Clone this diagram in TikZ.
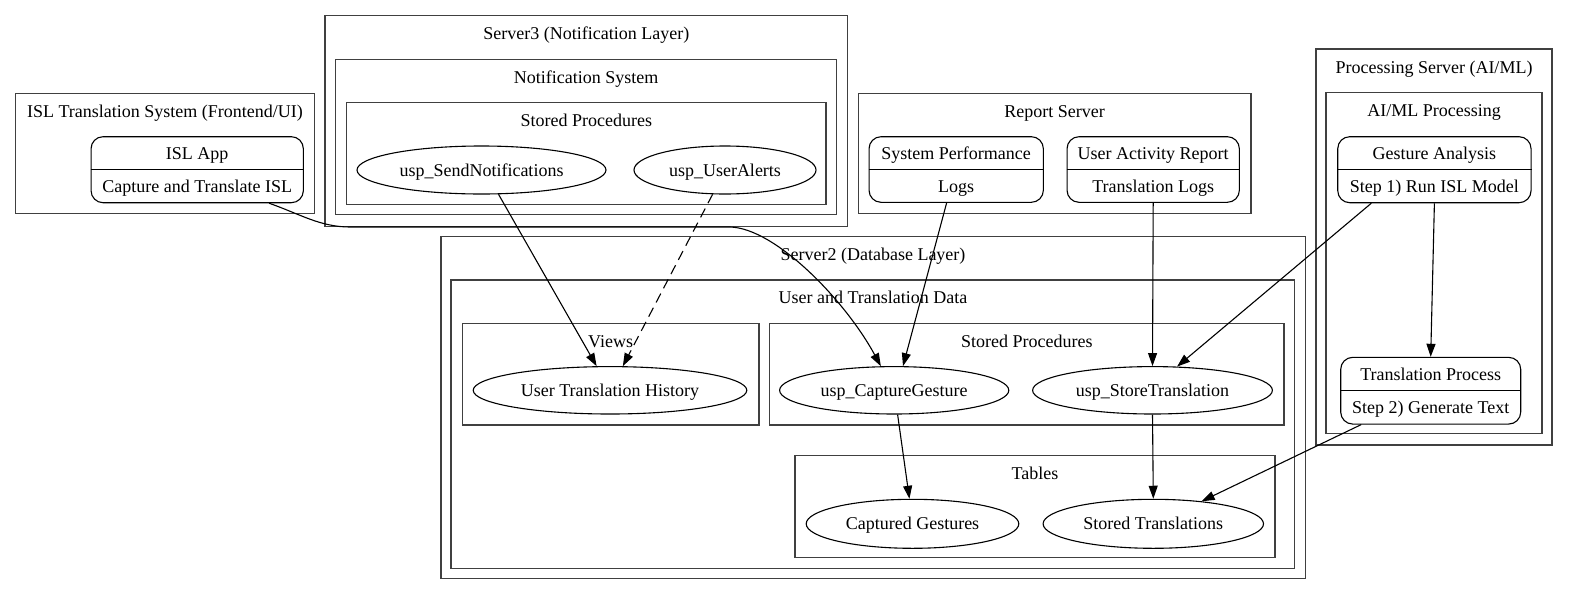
\documentclass[tikz,border=0pt]{standalone}
\usepackage{fontspec}
\setmainfont{Liberation Serif}
\usetikzlibrary{arrows.meta,shapes.geometric}
\tikzset{
  clusterbox/.style={draw=black!75, line width=1.1pt},
  ttl/.style={font=\fontsize{18}{20}\selectfont, anchor=base, inner sep=0pt},
  ell/.style={draw, ellipse, line width=1.1pt, inner sep=0pt, font=\fontsize{18}{20}\selectfont, text height=12pt, text depth=0pt},
  rec/.style={draw, rectangle, rounded corners=12pt, line width=1.1pt, inner sep=0pt},
  conn/.style={line width=1.1pt, -{Triangle[length=13pt,width=9pt]}},
}
\begin{document}
\begin{tikzpicture}[x=1pt,y=-1pt]
\fill[white] (0,0) rectangle (1569,595);
\useasboundingbox (0,0) rectangle (1569,595);

% ---------- clusters ----------
\draw[clusterbox] (15.7,93.3) rectangle (314.3,213.5);
\node[ttl] (t_isl) at (165,117) {ISL Translation System (Frontend/UI)};

\draw[clusterbox] (325,15.7) rectangle (847.7,226.5);
\node[ttl] (t_s3) at (586.3,39.4) {Server3 (Notification Layer)};
\draw[clusterbox] (335.7,59.3) rectangle (836.7,214.3);
\node[ttl] (t_ns) at (586.2,83) {Notification System};
\draw[clusterbox] (346.7,102.7) rectangle (826,204.3);
\node[ttl] (t_sp3) at (586.3,126.4) {Stored Procedures};

\draw[clusterbox] (858.3,93.3) rectangle (1251,213.3);
\node[ttl] (t_rs) at (1054.6,117) {Report Server};

\draw[clusterbox] (1316,49) rectangle (1552,445);
\node[ttl] (t_ps) at (1434,73) {Processing Server (AI/ML)};
\draw[clusterbox] (1326,92.7) rectangle (1542,433.3);
\node[ttl] (t_ai) at (1434,116.4) {AI/ML Processing};

\draw[clusterbox] (441,236.7) rectangle (1305.5,578.3);
\node[ttl] (t_s2) at (873,260.4) {Server2 (Database Layer)};
\draw[clusterbox] (451,280) rectangle (1294.5,568.3);
\node[ttl] (t_utd) at (873,303.7) {User and Translation Data};
\draw[clusterbox] (462.2,323.3) rectangle (759,425);
\node[ttl] (t_views) at (610.6,347) {Views};
\draw[clusterbox] (769.6,323.3) rectangle (1284,425);
\node[ttl] (t_sp2) at (1026.8,347) {Stored Procedures};
\draw[clusterbox] (795,455.7) rectangle (1275,557.7);
\node[ttl] (t_tab) at (1035,479.4) {Tables};

% ---------- record nodes ----------
\node[rec, minimum width=212.3, minimum height=66] (isl) at (197.2,169.7) {};
\draw[line width=1.1pt] (isl.west) -- (isl.east);
\node[ttl] (isl_a) at (197.2,159) {ISL App};
\node[ttl] (isl_b) at (197.2,192) {Capture and Translate ISL};

\node[rec, minimum width=174.3, minimum height=65.6] (sysperf) at (956.2,169.5) {};
\draw[line width=1.1pt] (sysperf.west) -- (sysperf.east);
\node[ttl] (sp_a) at (956.2,159) {System Performance};
\node[ttl] (sp_b) at (956.2,192) {Logs};

\node[rec, minimum width=172.3, minimum height=65.6] (useract) at (1153.2,169.5) {};
\draw[line width=1.1pt] (useract.west) -- (useract.east);
\node[ttl] (ua_a) at (1153.2,159) {User Activity Report};
\node[ttl] (ua_b) at (1153.2,192) {Translation Logs};

\node[rec, minimum width=193.3, minimum height=66] (gesture) at (1434.4,169.7) {};
\draw[line width=1.1pt] (gesture.west) -- (gesture.east);
\node[ttl] (ga_a) at (1434.4,159) {Gesture Analysis};
\node[ttl] (ga_b) at (1434.4,192) {Step 1) Run ISL Model};

\node[rec, minimum width=180, minimum height=66.7] (transp) at (1430.7,390.7) {};
\draw[line width=1.1pt] (transp.west) -- (transp.east);
\node[ttl] (tp_a) at (1430.7,380) {Translation Process};
\node[ttl] (tp_b) at (1430.7,413) {Step 2) Generate Text};

% ---------- ellipse nodes ----------
\node[ell, minimum width=249, minimum height=48] (sendn) at (481.5,170) {usp\_SendNotifications};
\node[ell, minimum width=182, minimum height=48] (alerts) at (725,170) {usp\_UserAlerts};
\node[ell, minimum width=273.6, minimum height=47.4] (uth) at (610,390.3) {User Translation History};
\node[ell, minimum width=229.2, minimum height=47.4] (capg) at (894.2,390.3) {usp\_CaptureGesture};
\node[ell, minimum width=239.8, minimum height=47.4] (stor) at (1152.5,390.3) {usp\_StoreTranslation};
\node[ell, minimum width=212.6, minimum height=49] (capt) at (912.5,523.8) {Captured Gestures};
\node[ell, minimum width=220.4, minimum height=49] (strans) at (1153.3,523.8) {Stored Translations};

% ---------- connectors ----------
\draw[conn] (isl.-25) .. controls (300,214) and (320,227) .. (350,227)
  -- (730,227) .. controls (775,228) and (845,300) .. (capg.119);
\draw[conn] (sendn.-55) -- (uth.119);
\draw[conn, dash pattern=on 10pt off 6pt] (alerts.243) -- (uth.62);
\draw[conn] (sysperf.254) -- (capg.70);
\draw[conn] (useract.south) -- (stor.north);
\draw[conn] (gesture.208.6) -- (stor.44.6);
\draw[conn] (gesture.south) -- (transp.north);
\draw[conn] (transp.206.3) -- (strans.25.4);
\draw[conn] (capg.-82) -- (capt.97.4);
\draw[conn] (stor.south) -- (strans.north);
\end{tikzpicture}
\end{document}
